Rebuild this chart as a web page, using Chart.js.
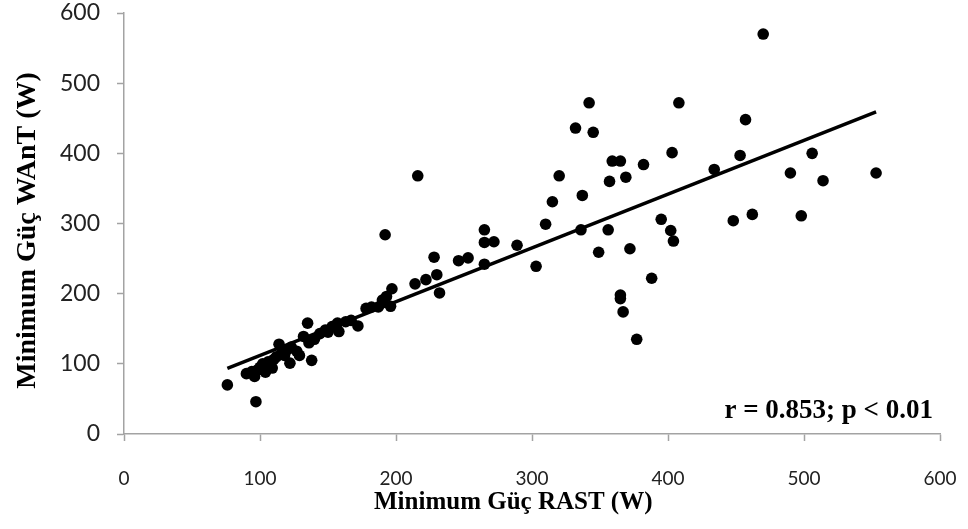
<!DOCTYPE html>
<html>
<head>
<meta charset="utf-8">
<script src="https://cdn.jsdelivr.net/npm/chart.js@4.4.1/dist/chart.umd.min.js"></script>
<style>
  html, body { margin: 0; padding: 0; background: #fff; }
  #wrap { width: 968px; height: 529px; }
</style>
</head>
<body>
<div id="wrap"><canvas id="scatterChart"></canvas></div>
<script>
// RAST vs WAnT minimum power (W)
const rastMin = [76, 97, 90, 94, 96, 98, 100, 102, 104, 106, 109, 110, 112, 114, 116, 118, 120, 122, 123, 127,
    129, 132, 135, 136, 138, 140, 144, 148, 150, 153, 157, 158, 163, 167, 172, 178, 182, 187, 190, 192,
    193, 196, 197, 214, 216, 222, 228, 230, 232, 246, 253, 265, 265, 265, 272, 289, 303, 310, 315, 320,
    332, 336, 337, 342, 345, 349, 356, 357, 359, 365, 365, 365, 367, 369, 372, 377, 382, 388, 395, 402,
    403, 404, 408, 434, 448, 453, 457, 462, 470, 490, 498, 506, 514, 553];
const wantMin = [70, 46, 86, 89, 82, 91, 95, 100, 88, 103, 94, 106, 110, 128, 115, 112, 120, 101, 124, 118,
    112, 139, 158, 130, 105, 135, 143, 148, 145, 153, 158, 146, 160, 162, 154, 179, 181, 181, 191, 284,
    196, 182, 207, 214, 368, 220, 252, 227, 201, 247, 251, 242, 273, 291, 274, 269, 239, 299, 331, 368,
    436, 291, 340, 472, 430, 259, 291, 360, 389, 389, 198, 193, 174, 366, 264, 135, 384, 222, 306, 290,
    401, 275, 472, 377, 304, 397, 448, 313, 570, 372, 311, 400, 361, 372];

// trend line end points
const fitX = [76, 553];
const fitY = [93.5, 459];

const axisTicks = [0, 100, 200, 300, 400, 500, 600];
const xTitle = 'Minimum Güç RAST (W)\u2003\u2002';
const yTitle = 'Minimum Güç WAnT (W)\u2002';
const statText = 'r = 0.853; p < 0.01';

const points = rastMin.map((x, i) => ({ x: x, y: wantMin[i] }));
const fitLine = fitX.map((x, i) => ({ x: x, y: fitY[i] }));

const axisGrey = '#a3a3a3';

const statLabel = {
    id: 'statLabel',
    afterDraw(chart) {
        const { ctx, chartArea } = chart;
        ctx.save();
        ctx.font = 'bold 27px "Liberation Serif"';
        ctx.fillStyle = '#000';
        ctx.textAlign = 'right';
        ctx.textBaseline = 'alphabetic';
        ctx.fillText(statText, chartArea.right - 7, chartArea.bottom - 16);
        ctx.restore();
    }
};

const ctx = document.getElementById('scatterChart').getContext('2d');
const chart = new Chart(ctx, {
    type: 'scatter',
    data: {
        datasets: [{
            data: points,
            backgroundColor: '#000',
            borderWidth: 0,
            pointRadius: 5.8,
            pointHoverRadius: 5.8
        }, {
            type: 'line',
            data: fitLine,
            borderColor: '#000',
            borderWidth: 3.5,
            pointRadius: 0,
            fill: false
        }]
    },
    options: {
        responsive: true,
        maintainAspectRatio: false,
        animation: false,
        layout: { padding: { top: 13, right: 28, bottom: 0, left: 0 } },
        plugins: {
            legend: { display: false },
            tooltip: { enabled: false }
        },
        scales: {
            x: {
                type: 'linear',
                min: 0,
                max: 600,
                afterFit: (scale) => {
                    scale.height = 95;
                    scale.paddingLeft = 0;
                    scale.paddingRight = 0;
                },
                afterBuildTicks: (scale) => { scale.ticks = axisTicks.map(v => ({ value: v })); },
                grid: { drawOnChartArea: false, tickLength: 7, color: axisGrey, tickWidth: 1.5 },
                border: { color: axisGrey, width: 1.5 },
                ticks: {
                    padding: 26,
                    color: '#222',
                    font: { family: 'Lato', size: 19 }
                },
                title: {
                    display: true,
                    text: xTitle,
                    color: '#000',
                    padding: { top: 0, bottom: 11 },
                    font: { family: '"Liberation Serif"', size: 25, weight: 'bold' }
                }
            },
            y: {
                type: 'linear',
                min: 0,
                max: 600,
                afterFit: (scale) => {
                    scale.width = 124;
                    scale.paddingTop = 0;
                    scale.paddingBottom = 0;
                },
                afterBuildTicks: (scale) => { scale.ticks = axisTicks.map(v => ({ value: v })); },
                grid: { drawOnChartArea: false, tickLength: 7, color: axisGrey, tickWidth: 1.5 },
                border: { color: axisGrey, width: 1.5 },
                ticks: {
                    padding: 17,
                    color: '#222',
                    font: { family: 'Lato', size: 23 }
                },
                title: {
                    display: true,
                    text: yTitle,
                    color: '#000',
                    padding: { top: 11, bottom: 0 },
                    font: { family: '"Liberation Serif"', size: 28, weight: 'bold' }
                }
            }
        }
    },
    plugins: [statLabel]
});
</script>
</body>
</html>
